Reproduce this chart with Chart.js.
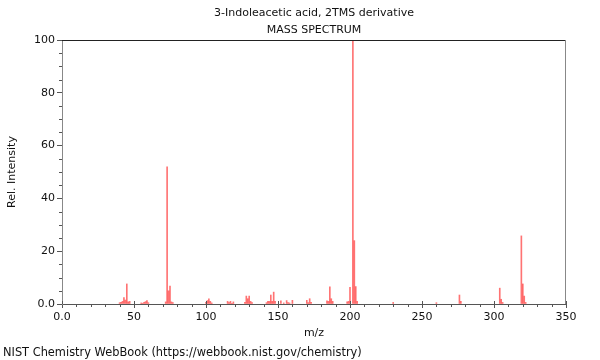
<!DOCTYPE html>
<html>
<head>
<meta charset="utf-8">
<script src="https://cdn.jsdelivr.net/npm/chart.js@4.4.1/dist/chart.umd.min.js"></script>
<style>
  html, body { margin: 0; padding: 0; background: #fff; }
  #wrap { width: 600px; height: 360px; }
</style>
</head>
<body>
<div id="wrap"><canvas id="msChart" width="600" height="360"></canvas></div>
<script>
  // peaks (m/z, rel. intensity)
  const mz = [40, 41, 42, 43, 44, 45, 46, 47,
    55, 56, 57, 58, 59, 60,
    72, 73, 74, 75, 76, 77,
    100, 101, 102, 103, 104,
    115, 116, 117, 118, 119,
    127, 128, 129, 130, 131, 132,
    142, 143, 144, 145, 146, 147, 148,
    152, 154, 156, 157, 158, 160,
    170, 171, 172, 173,
    184, 185, 186, 187, 188,
    198, 199, 200, 202, 203, 204, 205,
    230, 260, 276, 277,
    304, 305, 306, 319, 320, 321, 322];
  const intensity = [0.5, 0.6, 1.0, 2.4, 1.5, 7.6, 0.8, 1.0,
    0.4, 0.3, 0.6, 0.9, 1.3, 0.5,
    0.8, 52, 5.0, 6.8, 0.8, 0.5,
    0.6, 1.3, 2.0, 1.0, 0.4,
    1.0, 0.5, 1.0, 0.3, 0.8,
    0.6, 3.0, 2.0, 3.0, 1.0, 0.5,
    0.5, 1.0, 1.0, 3.4, 1.0, 4.5, 1.0,
    1.2, 0.4, 1.3, 0.5, 0.4, 1.4,
    1.4, 0.5, 2.0, 0.6,
    1.2, 1.0, 6.5, 2.0, 1.0,
    0.8, 1.0, 6.3, 100, 24, 6.6, 1.0,
    0.6, 0.5, 3.4, 1.0,
    6.0, 1.8, 0.6, 25.8, 7.6, 3.0, 0.6];
  const xTicks = [0, 50, 100, 150, 200, 250, 300, 350];
  const yTicks = [0, 20, 40, 60, 80, 100];

  const titleLines = ['3-Indoleacetic acid, 2TMS derivative', 'MASS SPECTRUM'];
  const footer = 'NIST Chemistry WebBook (https://webbook.nist.gov/chemistry)';

  const font = { family: 'DejaVu Sans', size: 11 };
  const fmt = v => (v === 0 ? '0.0' : String(v));

  // frame, minor ticks and the texts above/below; positions come from the scales
  const frame = {
    id: 'frame',
    afterDraw(chart) {
      const { ctx, chartArea: a, scales: { x, y } } = chart;
      ctx.save();
      ctx.lineWidth = 1;
      ctx.strokeStyle = '#222';
      ctx.beginPath();
      ctx.moveTo(a.left, a.top + 0.5);
      ctx.lineTo(a.right, a.top + 0.5);
      ctx.stroke();
      ctx.strokeStyle = '#888';
      ctx.beginPath();
      ctx.moveTo(a.right - 0.5, a.top);
      ctx.lineTo(a.right - 0.5, a.bottom);
      ctx.stroke();
      ctx.strokeStyle = '#555';
      ctx.beginPath();
      for (let v = 0; v <= 350; v += 10) {
        const px = Math.round(x.getPixelForValue(v)) + 0.5;
        if (v % 50 === 0) {
          ctx.moveTo(px, a.bottom);
          ctx.lineTo(px, a.bottom - 3);
        } else {
          ctx.moveTo(px, a.bottom);
          ctx.lineTo(px, a.bottom + 3);
        }
      }
      for (let v = 5; v < 100; v += 5) {
        if (v % 20 === 0) continue;
        const py = Math.round(y.getPixelForValue(v)) + 0.5;
        ctx.moveTo(a.left, py);
        ctx.lineTo(a.left - 3, py);
      }
      ctx.stroke();

      ctx.fillStyle = '#111';
      ctx.font = '11px "DejaVu Sans"';
      ctx.textBaseline = 'middle';
      ctx.textAlign = 'center';
      const cx = (a.left + a.right) / 2;
      ctx.fillText(titleLines[0], cx, 13);
      ctx.fillText(titleLines[1], cx, 30);
      ctx.font = '11.4px "DejaVu Sans"';
      ctx.textAlign = 'left';
      ctx.fillText(footer, 3, 353);
      ctx.restore();
    }
  };

  new Chart(document.getElementById('msChart'), {
    type: 'bar',
    data: {
      datasets: [{
        data: mz.map((m, i) => ({ x: m, y: intensity[i] })),
        backgroundColor: 'rgba(255, 0, 0, 0.55)',
        barThickness: 1,
        grouped: false
      }]
    },
    plugins: [frame],
    options: {
      responsive: false,
      animation: false,
      layout: { padding: { top: 40, right: 34, bottom: 14 } },
      scales: {
        x: {
          type: 'linear',
          offset: false,
          min: 0,
          max: 350,
          afterFit: s => { s.height = 42; },
          afterBuildTicks: s => { s.ticks = xTicks.map(v => ({ value: v })); },
          ticks: { callback: fmt, font, color: '#111', padding: 3, maxRotation: 0 },
          grid: { offset: false, drawOnChartArea: false, tickLength: 4, color: '#555' },
          border: { color: '#555' },
          title: { display: true, text: 'm/z', font, color: '#111', padding: { top: 4, bottom: 6 } }
        },
        y: {
          min: 0,
          max: 100,
          afterFit: s => { s.width = 62; },
          afterBuildTicks: s => { s.ticks = yTicks.map(v => ({ value: v })); },
          ticks: { callback: fmt, font, color: '#111', padding: 2 },
          grid: { drawOnChartArea: false, tickLength: 5, color: '#555' },
          border: { color: '#888' },
          title: { display: true, text: 'Rel. Intensity', font, color: '#111', padding: { top: 6, bottom: 4 } }
        }
      },
      plugins: {
        legend: { display: false },
        tooltip: { enabled: false },
        title: { display: false }
      }
    }
  });
</script>
</body>
</html>
